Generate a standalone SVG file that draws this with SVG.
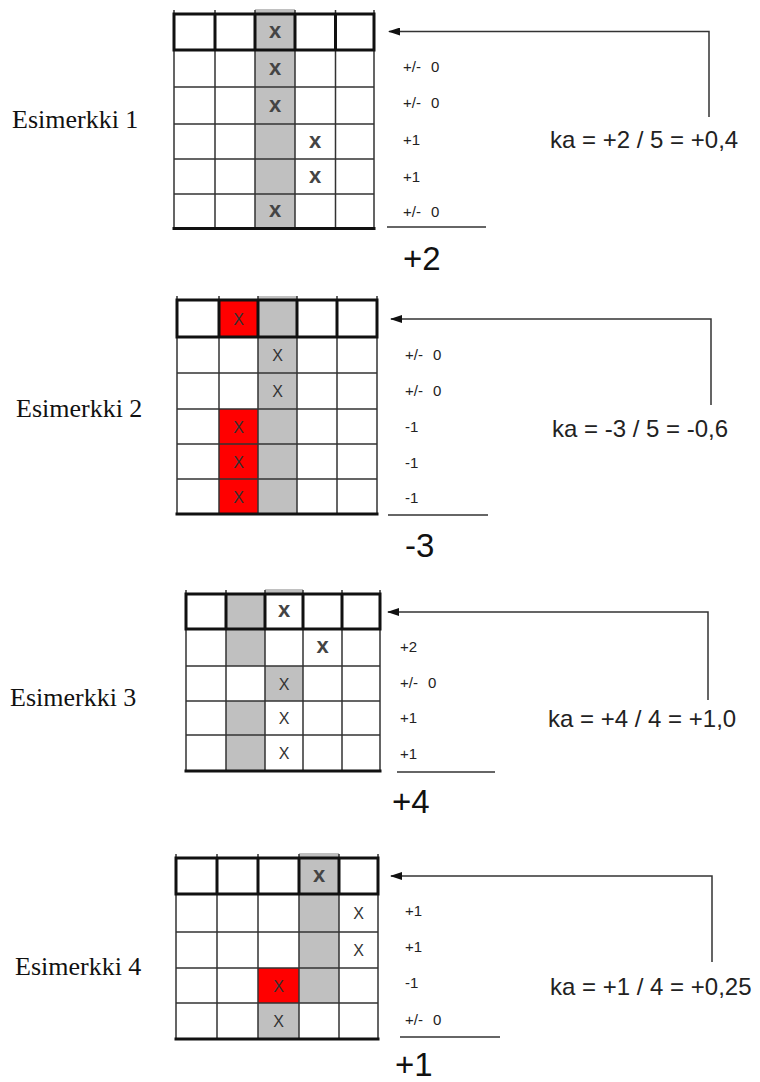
<svg xmlns="http://www.w3.org/2000/svg" width="760" height="1082" viewBox="0 0 760 1082">
<style>
.bg{fill:#fff}
.thin{stroke:#333;stroke-width:1.5;fill:none}
.thick{stroke:#111;stroke-width:3;fill:none}
.gray{fill:#c0c0c0}
.red{fill:#ff0000}
.mk{font-family:"Liberation Sans",Arial,sans-serif;font-size:16px;fill:#333;text-anchor:middle}
.mkb{font-size:22px;font-weight:bold;fill:#444}
.lbl{font-family:"Liberation Sans",Arial,sans-serif;font-size:15px;fill:#222;word-spacing:6px}
.sum{font-family:"Liberation Sans",Arial,sans-serif;font-size:33px;fill:#111}
.ka{font-family:"Liberation Sans",Arial,sans-serif;font-size:24px;fill:#222}
.title{font-family:"Liberation Serif","Times New Roman",serif;font-size:26px;fill:#111}
.conn{stroke:#333;stroke-width:1.5;fill:none}
</style>
<defs>
<marker id="arr" viewBox="0 0 12 8" refX="11" refY="4" markerWidth="12" markerHeight="8" markerUnits="userSpaceOnUse" orient="auto">
<path d="M12 4L0 0L0 8Z" fill="#111"/>
</marker>
</defs>
<rect class="bg" x="0" y="0" width="760" height="1082"/>

<g id="example1">
<text class="title" x="12" y="128">Esimerkki 1</text>
<rect class="gray" x="255" y="9" width="40" height="219.5"/>
<path class="thin" d="M174 10V228.5M215 10V228.5M255 10V228.5M295 10V228.5M335.5 10V228.5M374 10V228.5M174 87H374M174 124H374M174 159H374M174 194H374"/>
<path class="thick" d="M174 14H374V50H174ZM215 14V50M255 14V50M295 14V50M335.5 14V50M172.5 228.5H375.5"/>
<text class="mk mkb" x="275" y="38">x</text>
<text class="mk mkb" x="275" y="74.5">x</text>
<text class="mk mkb" x="275" y="111.5">x</text>
<text class="mk mkb" x="315" y="147.5">x</text>
<text class="mk mkb" x="315" y="182.5">x</text>
<text class="mk mkb" x="275" y="217">x</text>
<text class="lbl" x="403" y="72">+/- 0</text>
<text class="lbl" x="403" y="108">+/- 0</text>
<text class="lbl" x="403" y="145">+1</text>
<text class="lbl" x="403" y="182">+1</text>
<text class="lbl" x="403" y="217">+/- 0</text>
<path class="thin" d="M387 227H486"/>
<text class="sum" x="403" y="270">+2</text>
<text class="ka" x="550" y="148">ka = +2 / 5 = +0,4</text>
</g>

<g id="example2">
<text class="title" x="16" y="417">Esimerkki 2</text>
<rect class="red" x="219" y="300" width="39" height="37"/>
<rect class="red" x="219" y="409" width="39" height="105"/>
<rect class="gray" x="258" y="296" width="39" height="218"/>
<path class="thin" d="M177 296V514M219 296V514M258 296V514M297 296V514M337 296V514M377 296V514M177 373H377M177 409H377M177 444H377M177 479H377"/>
<path class="thick" d="M177 300H377V337H177ZM219 300V337M258 300V337M297 300V337M337 300V337M175.5 514H378.5"/>
<text class="mk" x="238.5" y="324.5">X</text>
<text class="mk" x="277.5" y="361">X</text>
<text class="mk" x="277.5" y="397">X</text>
<text class="mk" x="238.5" y="432.5">X</text>
<text class="mk" x="238.5" y="467.5">X</text>
<text class="mk" x="238.5" y="502.5">X</text>
<text class="lbl" x="405" y="360">+/- 0</text>
<text class="lbl" x="405" y="396">+/- 0</text>
<text class="lbl" x="405" y="432">-1</text>
<text class="lbl" x="405" y="468">-1</text>
<text class="lbl" x="405" y="503">-1</text>
<path class="thin" d="M388 515H488"/>
<text class="sum" x="405" y="557">-3</text>
<text class="ka" x="552" y="437">ka = -3 / 5 = -0,6</text>
</g>

<g id="example3">
<text class="title" x="10" y="706">Esimerkki 3</text>
<rect class="gray" x="226" y="594" width="39" height="72"/>
<rect class="gray" x="226" y="701" width="39" height="70"/>
<rect class="gray" x="265" y="666" width="38" height="35"/>
<rect class="gray" x="265" y="589" width="38" height="5"/>
<path class="thin" d="M186 590V771M226 590V771M265 590V771M303 590V771M342 590V771M380 590V771M186 666H380M186 701H380M186 735H380"/>
<path class="thick" d="M186 594H380V629H186ZM226 594V629M265 594V629M303 594V629M342 594V629M184.5 771H381.5"/>
<text class="mk mkb" x="284" y="617">x</text>
<text class="mk mkb" x="322.5" y="653">x</text>
<text class="mk" x="284" y="689.5">X</text>
<text class="mk" x="284" y="724">X</text>
<text class="mk" x="284" y="759">X</text>
<text class="lbl" x="400" y="652">+2</text>
<text class="lbl" x="400" y="688">+/- 0</text>
<text class="lbl" x="400" y="723">+1</text>
<text class="lbl" x="400" y="759">+1</text>
<path class="thin" d="M397 772H495"/>
<text class="sum" x="392" y="813">+4</text>
<text class="ka" x="548" y="727">ka = +4 / 4 = +1,0</text>
</g>

<g id="example4">
<text class="title" x="15" y="975">Esimerkki 4</text>
<rect class="gray" x="299" y="853" width="40" height="150"/>
<rect class="gray" x="258" y="1003" width="41" height="36"/>
<rect class="red" x="258" y="968" width="41" height="35"/>
<path class="thin" d="M176 854V1039M217 854V1039M258 854V1039M299 854V1039M339 854V1039M378 854V1039M176 932H378M176 968H378M176 1003H378"/>
<path class="thick" d="M176 858H378V894H176ZM217 858V894M258 858V894M299 858V894M339 858V894M174.5 1039H379.5"/>
<text class="mk mkb" x="319" y="882">x</text>
<text class="mk" x="358.5" y="919">X</text>
<text class="mk" x="358.5" y="956">X</text>
<text class="mk" x="278.5" y="991.5">X</text>
<text class="mk" x="278.5" y="1027">X</text>
<text class="lbl" x="405" y="916">+1</text>
<text class="lbl" x="405" y="952">+1</text>
<text class="lbl" x="405" y="988">-1</text>
<text class="lbl" x="405" y="1025">+/- 0</text>
<path class="thin" d="M400 1037H500"/>
<text class="sum" x="395" y="1076">+1</text>
<text class="ka" x="550" y="995">ka = +1 / 4 = +0,25</text>
</g>

<g id="connectors">
<path class="conn" d="M709 117V31.5H389" marker-end="url(#arr)"/>
<path class="conn" d="M711 405V319H391" marker-end="url(#arr)"/>
<path class="conn" d="M708 700V612H388" marker-end="url(#arr)"/>
<path class="conn" d="M712 962V876H391" marker-end="url(#arr)"/>
</g>
</svg>
